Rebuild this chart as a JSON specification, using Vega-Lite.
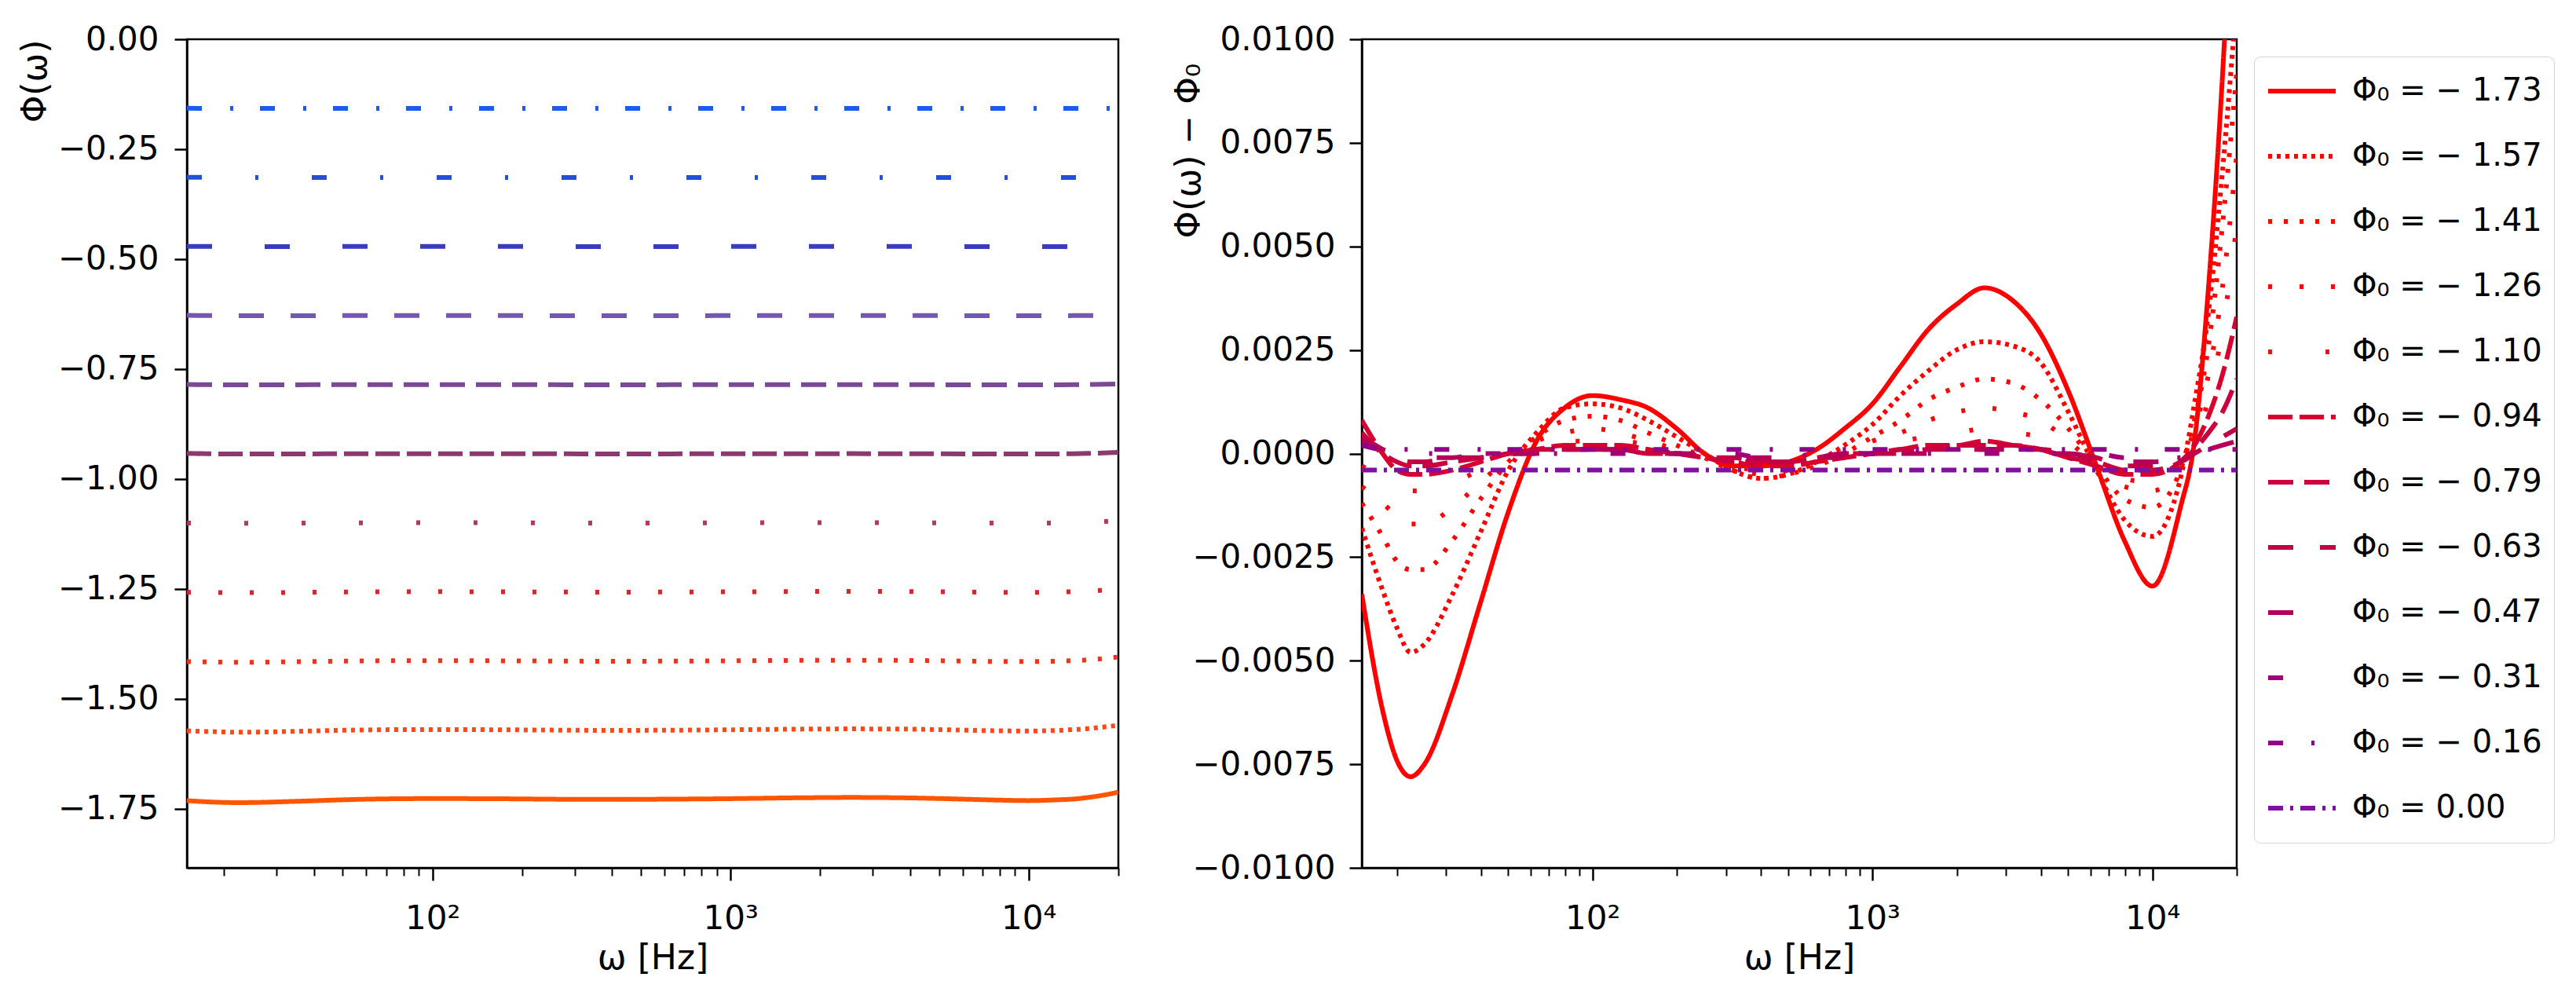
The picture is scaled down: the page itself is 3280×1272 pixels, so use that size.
{
  "$schema": "https://vega.github.io/schema/vega-lite/v6.json",
  "padding": {"left": 22, "top": 27, "right": 0, "bottom": 0},
  "background": "white",
  "config": {
    "font": "DejaVu Sans",
    "view": {"stroke": "black", "strokeWidth": 2.5},
    "axis": {
      "grid": false,
      "domainColor": "black", "domainWidth": 2.5,
      "tickColor": "black", "tickWidth": 2.5,
      "labelColor": "black", "titleColor": "black",
      "labelFont": "DejaVu Sans", "titleFont": "DejaVu Sans", "labelLimit": 400,
      "labelFontSize": 42, "titleFontSize": 44, "titleFontWeight": "normal"
    },
    "legend": {
      "labelFont": "DejaVu Sans", "labelFontSize": 40, "labelColor": "black", "labelLimit": 500,
      "symbolType": "stroke", "symbolSize": 7396, "symbolStrokeWidth": 6,
      "labelOffset": 18, "clipHeight": 58, "rowPadding": 25, "padding": 15,
      "strokeColor": "#d4d4d4", "cornerRadius": 8, "fillColor": "white"
    }
  },
  "data": {"values": [
    {"f":15,"s":"-1.73","d":-0.0034,"p":-1.7313},{"f":17.8,"s":"-1.73","d":-0.0062,"p":-1.7341},{"f":20,"s":"-1.73","d":-0.0074,"p":-1.7353},{"f":22.4,"s":"-1.73","d":-0.0078,"p":-1.7357},{"f":25.1,"s":"-1.73","d":-0.0075,"p":-1.7354},{"f":31.6,"s":"-1.73","d":-0.0058,"p":-1.7337},{"f":39.8,"s":"-1.73","d":-0.0036,"p":-1.7315},{"f":50.1,"s":"-1.73","d":-0.0014,"p":-1.7293},{"f":63.1,"s":"-1.73","d":0.0003,"p":-1.7276},{"f":79.4,"s":"-1.73","d":0.0011,"p":-1.7268},{"f":100,"s":"-1.73","d":0.0014,"p":-1.7265},{"f":126,"s":"-1.73","d":0.0013,"p":-1.7266},{"f":158,"s":"-1.73","d":0.0011,"p":-1.7268},{"f":200,"s":"-1.73","d":0.0006,"p":-1.7273},{"f":251,"s":"-1.73","d":0,"p":-1.7279},{"f":316,"s":"-1.73","d":-0.0003,"p":-1.7282},{"f":398,"s":"-1.73","d":-0.0003,"p":-1.7282},{"f":501,"s":"-1.73","d":-0.0002,"p":-1.7281},{"f":631,"s":"-1.73","d":0.0001,"p":-1.7278},{"f":794,"s":"-1.73","d":0.0006,"p":-1.7273},{"f":1000,"s":"-1.73","d":0.0012,"p":-1.7267},{"f":1259,"s":"-1.73","d":0.0021,"p":-1.7258},{"f":1585,"s":"-1.73","d":0.0030,"p":-1.7249},{"f":1995,"s":"-1.73","d":0.0036,"p":-1.7243},{"f":2512,"s":"-1.73","d":0.0040,"p":-1.7239},{"f":3162,"s":"-1.73","d":0.0037,"p":-1.7242},{"f":3981,"s":"-1.73","d":0.0029,"p":-1.7250},{"f":5012,"s":"-1.73","d":0.0015,"p":-1.7264},{"f":6310,"s":"-1.73","d":-0.0003,"p":-1.7282},{"f":7943,"s":"-1.73","d":-0.0021,"p":-1.7300},{"f":10000,"s":"-1.73","d":-0.0032,"p":-1.7311},{"f":12589,"s":"-1.73","d":-0.0013,"p":-1.7292},{"f":14125,"s":"-1.73","d":0.0003,"p":-1.7276},{"f":15849,"s":"-1.73","d":0.0040,"p":-1.7239},{"f":17783,"s":"-1.73","d":0.0091,"p":-1.7188},{"f":20000,"s":"-1.73","d":0.0160,"p":-1.7119},
    {"f":15,"s":"-1.57","d":-0.0018,"p":-1.5726},{"f":17.8,"s":"-1.57","d":-0.0033,"p":-1.5741},{"f":20,"s":"-1.57","d":-0.0042,"p":-1.5750},{"f":22.4,"s":"-1.57","d":-0.0048,"p":-1.5756},{"f":25.1,"s":"-1.57","d":-0.0046,"p":-1.5754},{"f":31.6,"s":"-1.57","d":-0.0034,"p":-1.5742},{"f":39.8,"s":"-1.57","d":-0.0019,"p":-1.5727},{"f":50.1,"s":"-1.57","d":-0.0004,"p":-1.5712},{"f":63.1,"s":"-1.57","d":0.0005,"p":-1.5703},{"f":79.4,"s":"-1.57","d":0.0011,"p":-1.5697},{"f":100,"s":"-1.57","d":0.0012,"p":-1.5696},{"f":126,"s":"-1.57","d":0.0011,"p":-1.5697},{"f":158,"s":"-1.57","d":0.0008,"p":-1.5700},{"f":200,"s":"-1.57","d":0.0004,"p":-1.5704},{"f":251,"s":"-1.57","d":0,"p":-1.5708},{"f":316,"s":"-1.57","d":-0.0004,"p":-1.5712},{"f":398,"s":"-1.57","d":-0.0006,"p":-1.5714},{"f":501,"s":"-1.57","d":-0.0005,"p":-1.5713},{"f":631,"s":"-1.57","d":-0.0002,"p":-1.5710},{"f":794,"s":"-1.57","d":0.0002,"p":-1.5706},{"f":1000,"s":"-1.57","d":0.0007,"p":-1.5701},{"f":1259,"s":"-1.57","d":0.0014,"p":-1.5694},{"f":1585,"s":"-1.57","d":0.0020,"p":-1.5688},{"f":1995,"s":"-1.57","d":0.0025,"p":-1.5683},{"f":2512,"s":"-1.57","d":0.0027,"p":-1.5681},{"f":3162,"s":"-1.57","d":0.0026,"p":-1.5682},{"f":3981,"s":"-1.57","d":0.0022,"p":-1.5686},{"f":5012,"s":"-1.57","d":0.0010,"p":-1.5698},{"f":6310,"s":"-1.57","d":-0.0004,"p":-1.5712},{"f":7943,"s":"-1.57","d":-0.0016,"p":-1.5724},{"f":10000,"s":"-1.57","d":-0.0020,"p":-1.5728},{"f":12589,"s":"-1.57","d":-0.0006,"p":-1.5714},{"f":14125,"s":"-1.57","d":0.0012,"p":-1.5696},{"f":15849,"s":"-1.57","d":0.0034,"p":-1.5674},{"f":17783,"s":"-1.57","d":0.0068,"p":-1.5640},{"f":20000,"s":"-1.57","d":0.0110,"p":-1.5598},
    {"f":15,"s":"-1.41","d":-0.0012,"p":-1.4149},{"f":17.8,"s":"-1.41","d":-0.0020,"p":-1.4157},{"f":20,"s":"-1.41","d":-0.0026,"p":-1.4163},{"f":22.4,"s":"-1.41","d":-0.0028,"p":-1.4165},{"f":25.1,"s":"-1.41","d":-0.0028,"p":-1.4165},{"f":31.6,"s":"-1.41","d":-0.0021,"p":-1.4158},{"f":39.8,"s":"-1.41","d":-0.0011,"p":-1.4148},{"f":50.1,"s":"-1.41","d":-0.0002,"p":-1.4139},{"f":63.1,"s":"-1.41","d":0.0004,"p":-1.4133},{"f":79.4,"s":"-1.41","d":0.0008,"p":-1.4129},{"f":100,"s":"-1.41","d":0.0009,"p":-1.4128},{"f":126,"s":"-1.41","d":0.0008,"p":-1.4129},{"f":158,"s":"-1.41","d":0.0005,"p":-1.4132},{"f":200,"s":"-1.41","d":0.0002,"p":-1.4135},{"f":251,"s":"-1.41","d":-0.0001,"p":-1.4138},{"f":316,"s":"-1.41","d":-0.0004,"p":-1.4141},{"f":398,"s":"-1.41","d":-0.0006,"p":-1.4143},{"f":501,"s":"-1.41","d":-0.0005,"p":-1.4142},{"f":631,"s":"-1.41","d":-0.0003,"p":-1.4140},{"f":794,"s":"-1.41","d":0,"p":-1.4137},{"f":1000,"s":"-1.41","d":0.0004,"p":-1.4133},{"f":1259,"s":"-1.41","d":0.0008,"p":-1.4129},{"f":1585,"s":"-1.41","d":0.0013,"p":-1.4124},{"f":1995,"s":"-1.41","d":0.0016,"p":-1.4121},{"f":2512,"s":"-1.41","d":0.0018,"p":-1.4119},{"f":3162,"s":"-1.41","d":0.0017,"p":-1.4120},{"f":3981,"s":"-1.41","d":0.0013,"p":-1.4124},{"f":5012,"s":"-1.41","d":0.0006,"p":-1.4131},{"f":6310,"s":"-1.41","d":-0.0003,"p":-1.4140},{"f":7943,"s":"-1.41","d":-0.0011,"p":-1.4148},{"f":10000,"s":"-1.41","d":-0.0013,"p":-1.4150},{"f":12589,"s":"-1.41","d":-0.0004,"p":-1.4141},{"f":14125,"s":"-1.41","d":0.0008,"p":-1.4129},{"f":15849,"s":"-1.41","d":0.0026,"p":-1.4111},{"f":17783,"s":"-1.41","d":0.0055,"p":-1.4082},{"f":20000,"s":"-1.41","d":0.0092,"p":-1.4045},
    {"f":15,"s":"-1.26","d":-0.0008,"p":-1.2574},{"f":17.8,"s":"-1.26","d":-0.0012,"p":-1.2578},{"f":20,"s":"-1.26","d":-0.0015,"p":-1.2581},{"f":22.4,"s":"-1.26","d":-0.0017,"p":-1.2583},{"f":25.1,"s":"-1.26","d":-0.0017,"p":-1.2583},{"f":31.6,"s":"-1.26","d":-0.0013,"p":-1.2579},{"f":39.8,"s":"-1.26","d":-0.0007,"p":-1.2573},{"f":50.1,"s":"-1.26","d":-0.0001,"p":-1.2567},{"f":63.1,"s":"-1.26","d":0.0003,"p":-1.2563},{"f":79.4,"s":"-1.26","d":0.0005,"p":-1.2561},{"f":100,"s":"-1.26","d":0.0006,"p":-1.2560},{"f":126,"s":"-1.26","d":0.0005,"p":-1.2561},{"f":158,"s":"-1.26","d":0.0003,"p":-1.2563},{"f":200,"s":"-1.26","d":0.0001,"p":-1.2565},{"f":251,"s":"-1.26","d":-0.0001,"p":-1.2567},{"f":316,"s":"-1.26","d":-0.0003,"p":-1.2569},{"f":398,"s":"-1.26","d":-0.0005,"p":-1.2571},{"f":501,"s":"-1.26","d":-0.0004,"p":-1.2570},{"f":631,"s":"-1.26","d":-0.0002,"p":-1.2568},{"f":794,"s":"-1.26","d":0,"p":-1.2566},{"f":1000,"s":"-1.26","d":0.0003,"p":-1.2563},{"f":1259,"s":"-1.26","d":0.0005,"p":-1.2561},{"f":1585,"s":"-1.26","d":0.0008,"p":-1.2558},{"f":1995,"s":"-1.26","d":0.0010,"p":-1.2556},{"f":2512,"s":"-1.26","d":0.0011,"p":-1.2555},{"f":3162,"s":"-1.26","d":0.0010,"p":-1.2556},{"f":3981,"s":"-1.26","d":0.0008,"p":-1.2558},{"f":5012,"s":"-1.26","d":0.0003,"p":-1.2563},{"f":6310,"s":"-1.26","d":-0.0003,"p":-1.2569},{"f":7943,"s":"-1.26","d":-0.0008,"p":-1.2574},{"f":10000,"s":"-1.26","d":-0.0009,"p":-1.2575},{"f":12589,"s":"-1.26","d":-0.0003,"p":-1.2569},{"f":14125,"s":"-1.26","d":0.0006,"p":-1.2560},{"f":15849,"s":"-1.26","d":0.0019,"p":-1.2547},{"f":17783,"s":"-1.26","d":0.0040,"p":-1.2526},{"f":20000,"s":"-1.26","d":0.0072,"p":-1.2494},
    {"f":15,"s":"-1.10","d":-0.0003,"p":-1.0999},{"f":17.8,"s":"-1.10","d":-0.0006,"p":-1.1002},{"f":20,"s":"-1.10","d":-0.0008,"p":-1.1004},{"f":22.4,"s":"-1.10","d":-0.0009,"p":-1.1005},{"f":25.1,"s":"-1.10","d":-0.0009,"p":-1.1005},{"f":31.6,"s":"-1.10","d":-0.0007,"p":-1.1003},{"f":39.8,"s":"-1.10","d":-0.0004,"p":-1.1000},{"f":50.1,"s":"-1.10","d":-0.0001,"p":-1.0997},{"f":63.1,"s":"-1.10","d":0.0001,"p":-1.0995},{"f":79.4,"s":"-1.10","d":0.0003,"p":-1.0993},{"f":100,"s":"-1.10","d":0.0003,"p":-1.0993},{"f":126,"s":"-1.10","d":0.0003,"p":-1.0993},{"f":158,"s":"-1.10","d":0.0002,"p":-1.0994},{"f":200,"s":"-1.10","d":0,"p":-1.0996},{"f":251,"s":"-1.10","d":-0.0001,"p":-1.0997},{"f":316,"s":"-1.10","d":-0.0003,"p":-1.0999},{"f":398,"s":"-1.10","d":-0.0004,"p":-1.1000},{"f":501,"s":"-1.10","d":-0.0003,"p":-1.0999},{"f":631,"s":"-1.10","d":-0.0002,"p":-1.0998},{"f":794,"s":"-1.10","d":-0.0001,"p":-1.0997},{"f":1000,"s":"-1.10","d":0.0001,"p":-1.0995},{"f":1259,"s":"-1.10","d":0.0003,"p":-1.0993},{"f":1585,"s":"-1.10","d":0.0004,"p":-1.0992},{"f":1995,"s":"-1.10","d":0.0005,"p":-1.0991},{"f":2512,"s":"-1.10","d":0.0006,"p":-1.0990},{"f":3162,"s":"-1.10","d":0.0005,"p":-1.0991},{"f":3981,"s":"-1.10","d":0.0004,"p":-1.0992},{"f":5012,"s":"-1.10","d":0.0001,"p":-1.0995},{"f":6310,"s":"-1.10","d":-0.0003,"p":-1.0999},{"f":7943,"s":"-1.10","d":-0.0006,"p":-1.1002},{"f":10000,"s":"-1.10","d":-0.0007,"p":-1.1003},{"f":12589,"s":"-1.10","d":-0.0002,"p":-1.0998},{"f":14125,"s":"-1.10","d":0.0004,"p":-1.0992},{"f":15849,"s":"-1.10","d":0.0013,"p":-1.0983},{"f":17783,"s":"-1.10","d":0.0030,"p":-1.0966},{"f":20000,"s":"-1.10","d":0.0055,"p":-1.0941},
    {"f":15,"s":"-0.94","d":0.0008,"p":-0.9417},{"f":17.8,"s":"-0.94","d":0,"p":-0.9425},{"f":20,"s":"-0.94","d":-0.0004,"p":-0.9429},{"f":22.4,"s":"-0.94","d":-0.0005,"p":-0.9430},{"f":25.1,"s":"-0.94","d":-0.0005,"p":-0.9430},{"f":31.6,"s":"-0.94","d":-0.0004,"p":-0.9429},{"f":39.8,"s":"-0.94","d":-0.0002,"p":-0.9427},{"f":50.1,"s":"-0.94","d":0,"p":-0.9425},{"f":63.1,"s":"-0.94","d":0.0001,"p":-0.9424},{"f":79.4,"s":"-0.94","d":0.0002,"p":-0.9423},{"f":100,"s":"-0.94","d":0.0002,"p":-0.9423},{"f":126,"s":"-0.94","d":0.0002,"p":-0.9423},{"f":158,"s":"-0.94","d":0.0001,"p":-0.9424},{"f":200,"s":"-0.94","d":0,"p":-0.9425},{"f":251,"s":"-0.94","d":-0.0001,"p":-0.9426},{"f":316,"s":"-0.94","d":-0.0002,"p":-0.9427},{"f":398,"s":"-0.94","d":-0.0003,"p":-0.9428},{"f":501,"s":"-0.94","d":-0.0003,"p":-0.9428},{"f":631,"s":"-0.94","d":-0.0002,"p":-0.9427},{"f":794,"s":"-0.94","d":-0.0001,"p":-0.9426},{"f":1000,"s":"-0.94","d":0,"p":-0.9425},{"f":1259,"s":"-0.94","d":0.0001,"p":-0.9424},{"f":1585,"s":"-0.94","d":0.0002,"p":-0.9423},{"f":1995,"s":"-0.94","d":0.0002,"p":-0.9423},{"f":2512,"s":"-0.94","d":0.0003,"p":-0.9422},{"f":3162,"s":"-0.94","d":0.0002,"p":-0.9423},{"f":3981,"s":"-0.94","d":0.0001,"p":-0.9424},{"f":5012,"s":"-0.94","d":-0.0001,"p":-0.9426},{"f":6310,"s":"-0.94","d":-0.0003,"p":-0.9428},{"f":7943,"s":"-0.94","d":-0.0005,"p":-0.9430},{"f":10000,"s":"-0.94","d":-0.0005,"p":-0.9430},{"f":12589,"s":"-0.94","d":-0.0002,"p":-0.9427},{"f":14125,"s":"-0.94","d":0.0002,"p":-0.9423},{"f":15849,"s":"-0.94","d":0.0009,"p":-0.9416},{"f":17783,"s":"-0.94","d":0.0019,"p":-0.9406},{"f":20000,"s":"-0.94","d":0.0033,"p":-0.9392},
    {"f":15,"s":"-0.79","d":0.0005,"p":-0.7849},{"f":17.8,"s":"-0.79","d":0,"p":-0.7854},{"f":20,"s":"-0.79","d":-0.0002,"p":-0.7856},{"f":22.4,"s":"-0.79","d":-0.0003,"p":-0.7857},{"f":25.1,"s":"-0.79","d":-0.0003,"p":-0.7857},{"f":31.6,"s":"-0.79","d":-0.0002,"p":-0.7856},{"f":39.8,"s":"-0.79","d":-0.0001,"p":-0.7855},{"f":50.1,"s":"-0.79","d":0,"p":-0.7854},{"f":63.1,"s":"-0.79","d":0.0001,"p":-0.7853},{"f":79.4,"s":"-0.79","d":0.0001,"p":-0.7853},{"f":100,"s":"-0.79","d":0.0001,"p":-0.7853},{"f":126,"s":"-0.79","d":0.0001,"p":-0.7853},{"f":158,"s":"-0.79","d":0,"p":-0.7854},{"f":200,"s":"-0.79","d":0,"p":-0.7854},{"f":251,"s":"-0.79","d":-0.0001,"p":-0.7855},{"f":316,"s":"-0.79","d":-0.0002,"p":-0.7856},{"f":398,"s":"-0.79","d":-0.0002,"p":-0.7856},{"f":501,"s":"-0.79","d":-0.0002,"p":-0.7856},{"f":631,"s":"-0.79","d":-0.0001,"p":-0.7855},{"f":794,"s":"-0.79","d":0,"p":-0.7854},{"f":1000,"s":"-0.79","d":0,"p":-0.7854},{"f":1259,"s":"-0.79","d":0.0001,"p":-0.7853},{"f":1585,"s":"-0.79","d":0.0001,"p":-0.7853},{"f":1995,"s":"-0.79","d":0.0002,"p":-0.7852},{"f":2512,"s":"-0.79","d":0.0002,"p":-0.7852},{"f":3162,"s":"-0.79","d":0.0002,"p":-0.7852},{"f":3981,"s":"-0.79","d":0.0001,"p":-0.7853},{"f":5012,"s":"-0.79","d":-0.0001,"p":-0.7855},{"f":6310,"s":"-0.79","d":-0.0002,"p":-0.7856},{"f":7943,"s":"-0.79","d":-0.0004,"p":-0.7858},{"f":10000,"s":"-0.79","d":-0.0004,"p":-0.7858},{"f":12589,"s":"-0.79","d":-0.0002,"p":-0.7856},{"f":14125,"s":"-0.79","d":0.0001,"p":-0.7853},{"f":15849,"s":"-0.79","d":0.0005,"p":-0.7849},{"f":17783,"s":"-0.79","d":0.0010,"p":-0.7844},{"f":20000,"s":"-0.79","d":0.0018,"p":-0.7836},
    {"f":15,"s":"-0.63","d":0.0004,"p":-0.6279},{"f":17.8,"s":"-0.63","d":0.0001,"p":-0.6282},{"f":20,"s":"-0.63","d":-0.0001,"p":-0.6284},{"f":22.4,"s":"-0.63","d":-0.0002,"p":-0.6285},{"f":25.1,"s":"-0.63","d":-0.0002,"p":-0.6285},{"f":31.6,"s":"-0.63","d":-0.0001,"p":-0.6284},{"f":39.8,"s":"-0.63","d":-0.0001,"p":-0.6284},{"f":50.1,"s":"-0.63","d":0,"p":-0.6283},{"f":63.1,"s":"-0.63","d":0,"p":-0.6283},{"f":79.4,"s":"-0.63","d":0.0001,"p":-0.6282},{"f":100,"s":"-0.63","d":0.0001,"p":-0.6282},{"f":126,"s":"-0.63","d":0.0001,"p":-0.6282},{"f":158,"s":"-0.63","d":0,"p":-0.6283},{"f":200,"s":"-0.63","d":0,"p":-0.6283},{"f":251,"s":"-0.63","d":-0.0001,"p":-0.6284},{"f":316,"s":"-0.63","d":-0.0001,"p":-0.6284},{"f":398,"s":"-0.63","d":-0.0002,"p":-0.6285},{"f":501,"s":"-0.63","d":-0.0002,"p":-0.6285},{"f":631,"s":"-0.63","d":-0.0001,"p":-0.6284},{"f":794,"s":"-0.63","d":-0.0001,"p":-0.6284},{"f":1000,"s":"-0.63","d":0,"p":-0.6283},{"f":1259,"s":"-0.63","d":0,"p":-0.6283},{"f":1585,"s":"-0.63","d":0.0001,"p":-0.6282},{"f":1995,"s":"-0.63","d":0.0001,"p":-0.6282},{"f":2512,"s":"-0.63","d":0.0001,"p":-0.6282},{"f":3162,"s":"-0.63","d":0.0001,"p":-0.6282},{"f":3981,"s":"-0.63","d":0.0001,"p":-0.6282},{"f":5012,"s":"-0.63","d":0,"p":-0.6283},{"f":6310,"s":"-0.63","d":-0.0001,"p":-0.6284},{"f":7943,"s":"-0.63","d":-0.0003,"p":-0.6286},{"f":10000,"s":"-0.63","d":-0.0003,"p":-0.6286},{"f":12589,"s":"-0.63","d":-0.0002,"p":-0.6285},{"f":14125,"s":"-0.63","d":0,"p":-0.6283},{"f":15849,"s":"-0.63","d":0.0002,"p":-0.6281},{"f":17783,"s":"-0.63","d":0.0004,"p":-0.6279},{"f":20000,"s":"-0.63","d":0.0006,"p":-0.6277},
    {"f":15,"s":"-0.47","d":0.0003,"p":-0.4709},{"f":17.8,"s":"-0.47","d":0.0001,"p":-0.4711},{"f":20,"s":"-0.47","d":0,"p":-0.4712},{"f":22.4,"s":"-0.47","d":-0.0001,"p":-0.4713},{"f":25.1,"s":"-0.47","d":-0.0001,"p":-0.4713},{"f":31.6,"s":"-0.47","d":-0.0001,"p":-0.4713},{"f":39.8,"s":"-0.47","d":0,"p":-0.4712},{"f":50.1,"s":"-0.47","d":0,"p":-0.4712},{"f":63.1,"s":"-0.47","d":0,"p":-0.4712},{"f":79.4,"s":"-0.47","d":0.0001,"p":-0.4711},{"f":100,"s":"-0.47","d":0.0001,"p":-0.4711},{"f":126,"s":"-0.47","d":0.0001,"p":-0.4711},{"f":158,"s":"-0.47","d":0,"p":-0.4712},{"f":200,"s":"-0.47","d":0,"p":-0.4712},{"f":251,"s":"-0.47","d":0,"p":-0.4712},{"f":316,"s":"-0.47","d":-0.0001,"p":-0.4713},{"f":398,"s":"-0.47","d":-0.0001,"p":-0.4713},{"f":501,"s":"-0.47","d":-0.0001,"p":-0.4713},{"f":631,"s":"-0.47","d":-0.0001,"p":-0.4713},{"f":794,"s":"-0.47","d":0,"p":-0.4712},{"f":1000,"s":"-0.47","d":0,"p":-0.4712},{"f":1259,"s":"-0.47","d":0,"p":-0.4712},{"f":1585,"s":"-0.47","d":0,"p":-0.4712},{"f":1995,"s":"-0.47","d":0.0001,"p":-0.4711},{"f":2512,"s":"-0.47","d":0.0001,"p":-0.4711},{"f":3162,"s":"-0.47","d":0.0001,"p":-0.4711},{"f":3981,"s":"-0.47","d":0,"p":-0.4712},{"f":5012,"s":"-0.47","d":0,"p":-0.4712},{"f":6310,"s":"-0.47","d":-0.0001,"p":-0.4713},{"f":7943,"s":"-0.47","d":-0.0002,"p":-0.4714},{"f":10000,"s":"-0.47","d":-0.0002,"p":-0.4714},{"f":12589,"s":"-0.47","d":-0.0001,"p":-0.4713},{"f":14125,"s":"-0.47","d":0,"p":-0.4712},{"f":15849,"s":"-0.47","d":0.0001,"p":-0.4711},{"f":17783,"s":"-0.47","d":0.0002,"p":-0.4710},{"f":20000,"s":"-0.47","d":0.0003,"p":-0.4709},
    {"f":15,"s":"-0.31","d":0.0002,"p":-0.3140},{"f":17.8,"s":"-0.31","d":0.0001,"p":-0.3141},{"f":20,"s":"-0.31","d":0,"p":-0.3142},{"f":22.4,"s":"-0.31","d":0,"p":-0.3142},{"f":25.1,"s":"-0.31","d":0,"p":-0.3142},{"f":31.6,"s":"-0.31","d":0,"p":-0.3142},{"f":39.8,"s":"-0.31","d":0,"p":-0.3142},{"f":50.1,"s":"-0.31","d":0,"p":-0.3142},{"f":63.1,"s":"-0.31","d":0,"p":-0.3142},{"f":79.4,"s":"-0.31","d":0,"p":-0.3142},{"f":100,"s":"-0.31","d":0,"p":-0.3142},{"f":126,"s":"-0.31","d":0,"p":-0.3142},{"f":158,"s":"-0.31","d":0,"p":-0.3142},{"f":200,"s":"-0.31","d":0,"p":-0.3142},{"f":251,"s":"-0.31","d":0,"p":-0.3142},{"f":316,"s":"-0.31","d":0,"p":-0.3142},{"f":398,"s":"-0.31","d":-0.0001,"p":-0.3143},{"f":501,"s":"-0.31","d":-0.0001,"p":-0.3143},{"f":631,"s":"-0.31","d":0,"p":-0.3142},{"f":794,"s":"-0.31","d":0,"p":-0.3142},{"f":1000,"s":"-0.31","d":0,"p":-0.3142},{"f":1259,"s":"-0.31","d":0,"p":-0.3142},{"f":1585,"s":"-0.31","d":0,"p":-0.3142},{"f":1995,"s":"-0.31","d":0,"p":-0.3142},{"f":2512,"s":"-0.31","d":0,"p":-0.3142},{"f":3162,"s":"-0.31","d":0,"p":-0.3142},{"f":3981,"s":"-0.31","d":0,"p":-0.3142},{"f":5012,"s":"-0.31","d":0,"p":-0.3142},{"f":6310,"s":"-0.31","d":0,"p":-0.3142},{"f":7943,"s":"-0.31","d":-0.0001,"p":-0.3143},{"f":10000,"s":"-0.31","d":-0.0001,"p":-0.3143},{"f":12589,"s":"-0.31","d":-0.0001,"p":-0.3143},{"f":14125,"s":"-0.31","d":0,"p":-0.3142},{"f":15849,"s":"-0.31","d":0,"p":-0.3142},{"f":17783,"s":"-0.31","d":0.0001,"p":-0.3141},{"f":20000,"s":"-0.31","d":0.0001,"p":-0.3141},
    {"f":15,"s":"-0.16","d":0.0002,"p":-0.1569},{"f":17.8,"s":"-0.16","d":0.0001,"p":-0.1570},{"f":20,"s":"-0.16","d":0.0001,"p":-0.1570},{"f":22.4,"s":"-0.16","d":0.0001,"p":-0.1570},{"f":25.1,"s":"-0.16","d":0.0001,"p":-0.1570},{"f":31.6,"s":"-0.16","d":0.0001,"p":-0.1570},{"f":39.8,"s":"-0.16","d":0.0001,"p":-0.1570},{"f":50.1,"s":"-0.16","d":0.0001,"p":-0.1570},{"f":63.1,"s":"-0.16","d":0.0001,"p":-0.1570},{"f":79.4,"s":"-0.16","d":0.0001,"p":-0.1570},{"f":100,"s":"-0.16","d":0.0001,"p":-0.1570},{"f":126,"s":"-0.16","d":0.0001,"p":-0.1570},{"f":158,"s":"-0.16","d":0.0001,"p":-0.1570},{"f":200,"s":"-0.16","d":0.0001,"p":-0.1570},{"f":251,"s":"-0.16","d":0.0001,"p":-0.1570},{"f":316,"s":"-0.16","d":0.0001,"p":-0.1570},{"f":398,"s":"-0.16","d":0.0001,"p":-0.1570},{"f":501,"s":"-0.16","d":0.0001,"p":-0.1570},{"f":631,"s":"-0.16","d":0.0001,"p":-0.1570},{"f":794,"s":"-0.16","d":0.0001,"p":-0.1570},{"f":1000,"s":"-0.16","d":0.0001,"p":-0.1570},{"f":1259,"s":"-0.16","d":0.0001,"p":-0.1570},{"f":1585,"s":"-0.16","d":0.0001,"p":-0.1570},{"f":1995,"s":"-0.16","d":0.0001,"p":-0.1570},{"f":2512,"s":"-0.16","d":0.0001,"p":-0.1570},{"f":3162,"s":"-0.16","d":0.0001,"p":-0.1570},{"f":3981,"s":"-0.16","d":0.0001,"p":-0.1570},{"f":5012,"s":"-0.16","d":0.0001,"p":-0.1570},{"f":6310,"s":"-0.16","d":0.0001,"p":-0.1570},{"f":7943,"s":"-0.16","d":0.0001,"p":-0.1570},{"f":10000,"s":"-0.16","d":0.0001,"p":-0.1570},{"f":12589,"s":"-0.16","d":0.0001,"p":-0.1570},{"f":14125,"s":"-0.16","d":0.0001,"p":-0.1570},{"f":15849,"s":"-0.16","d":0.0001,"p":-0.1570},{"f":17783,"s":"-0.16","d":0.0001,"p":-0.1570},{"f":20000,"s":"-0.16","d":0.0001,"p":-0.1570},
    {"f":15,"s":"0.00","d":-0.0004,"p":-0.0004},{"f":100,"s":"0.00","d":-0.0004,"p":-0.0004},{"f":1000,"s":"0.00","d":-0.0004,"p":-0.0004},{"f":10000,"s":"0.00","d":-0.0004,"p":-0.0004},{"f":20000,"s":"0.00","d":-0.0004,"p":-0.0004}
  ]},
  "spacing": 62,
  "resolve": {
    "scale": {"color": "independent", "strokeDash": "independent"},
    "legend": {"color": "independent", "strokeDash": "independent"}
  },
  "hconcat": [
    {
      "width": 1186,
      "height": 1055,
      "transform": [{"filter": "datum.s != '0.00'"}],
      "layer": [
        {
          "mark": {"type": "line", "strokeWidth": 6, "clip": true, "interpolate": "monotone"},
          "encoding": {
            "x": {
              "field": "f", "type": "quantitative",
              "scale": {"type": "log", "domain": [15, 20000], "nice": false},
              "axis": {
                "orient": "bottom", "values": [100, 1000, 10000],
                "labelExpr": "datum.value == 100 ? '10²' : datum.value == 1000 ? '10³' : '10⁴'",
                "tickSize": 16, "labelPadding": 28, "title": "ω [Hz]", "titlePadding": 8
              }
            },
            "y": {
              "field": "p", "type": "quantitative",
              "scale": {"domain": [-1.884, 0], "nice": false, "zero": false},
              "axis": {
                "values": [0, -0.25, -0.5, -0.75, -1, -1.25, -1.5, -1.75],
                "format": ".2f", "tickSize": 16, "labelPadding": 20,
                "title": "Φ(ω)", "titleAnchor": "end", "titlePadding": 6
              }
            },
            "color": {
              "field": "s", "type": "nominal", "legend": null,
              "scale": {
                "domain": ["-1.73", "-1.57", "-1.41", "-1.26", "-1.10", "-0.94", "-0.79", "-0.63", "-0.47", "-0.31", "-0.16", "0.00"],
                "range": ["#ff5500", "#ff4818", "#e83420", "#d02a30", "#b43a5c", "#8a3a6e", "#7a4a96", "#7458b0", "#3a3cc0", "#2450d8", "#1a5cf0", "#0a66ff"]
              }
            },
            "strokeDash": {
              "field": "s", "type": "nominal", "legend": null,
              "scale": {
                "domain": ["-1.73", "-1.57", "-1.41", "-1.26", "-1.10", "-0.94", "-0.79", "-0.63", "-0.47", "-0.31", "-0.16", "0.00"],
                "range": [[1, 0], [5, 6], [5, 15], [5, 35], [5, 68], [31, 9], [32, 14], [32, 34], [32, 67], [19, 68, 4, 68], [19, 36, 4, 34], [19, 9, 4, 9]]
              }
            }
          }
        },
        {
          "mark": {"type": "point", "opacity": 0},
          "encoding": {
            "x": {
              "field": "f", "type": "quantitative",
              "scale": {"type": "log", "domain": [15, 20000], "nice": false},
              "axis": {
                "orient": "bottom",
                "values": [20, 30, 40, 50, 60, 70, 80, 90, 200, 300, 400, 500, 600, 700, 800, 900, 2000, 3000, 4000, 5000, 6000, 7000, 8000, 9000, 20000],
                "labels": false, "domain": false, "tickSize": 10, "tickWidth": 2, "title": null
              }
            }
          }
        }
      ],
      "resolve": {"axis": {"x": "independent"}}
    },
    {
      "width": 1114,
      "height": 1055,
      "layer": [
        {
          "mark": {"type": "line", "strokeWidth": 6, "clip": true, "interpolate": "monotone"},
          "encoding": {
            "x": {
              "field": "f", "type": "quantitative",
              "scale": {"type": "log", "domain": [15, 20000], "nice": false},
              "axis": {
                "orient": "bottom", "values": [100, 1000, 10000],
                "labelExpr": "datum.value == 100 ? '10²' : datum.value == 1000 ? '10³' : '10⁴'",
                "tickSize": 16, "labelPadding": 28, "title": "ω [Hz]", "titlePadding": 8
              }
            },
            "y": {
              "field": "d", "type": "quantitative",
              "scale": {"domain": [-0.01, 0.01], "nice": false, "zero": false},
              "axis": {
                "values": [-0.01, -0.0075, -0.005, -0.0025, 0, 0.0025, 0.005, 0.0075, 0.01],
                "format": ".4f", "tickSize": 16, "labelPadding": 18,
                "title": "Φ(ω) − Φ₀", "titleAnchor": "end", "titleX": -198, "titleY": 30
              }
            },
            "color": {
              "field": "s", "type": "nominal",
              "legend": {"title": null, "orient": "none", "legendX": 1136, "legendY": 22,
                "labelExpr": "datum.label == '0.00' ? 'Φ₀ = 0.00' : 'Φ₀ = − ' + replace(datum.label, '-', '')"},
              "scale": {
                "domain": ["-1.73", "-1.57", "-1.41", "-1.26", "-1.10", "-0.94", "-0.79", "-0.63", "-0.47", "-0.31", "-0.16", "0.00"],
                "range": ["#ff0000", "#ff0000", "#ff0404", "#fa0606", "#f20a14", "#d8002e", "#cc003c", "#c20048", "#b4005a", "#a00078", "#900088", "#8010a0"]
              }
            },
            "strokeDash": {
              "field": "s", "type": "nominal",
              "legend": {"title": null, "orient": "none", "legendX": 1136, "legendY": 22,
                "labelExpr": "datum.label == '0.00' ? 'Φ₀ = 0.00' : 'Φ₀ = − ' + replace(datum.label, '-', '')"},
              "scale": {
                "domain": ["-1.73", "-1.57", "-1.41", "-1.26", "-1.10", "-0.94", "-0.79", "-0.63", "-0.47", "-0.31", "-0.16", "0.00"],
                "range": [[1, 0], [5, 6], [5, 15], [5, 35], [5, 68], [31, 9], [32, 14], [32, 34], [32, 67], [19, 68, 4, 68], [19, 36, 4, 34], [19, 9, 4, 9]]
              }
            }
          }
        },
        {
          "mark": {"type": "point", "opacity": 0},
          "encoding": {
            "x": {
              "field": "f", "type": "quantitative",
              "scale": {"type": "log", "domain": [15, 20000], "nice": false},
              "axis": {
                "orient": "bottom",
                "values": [20, 30, 40, 50, 60, 70, 80, 90, 200, 300, 400, 500, 600, 700, 800, 900, 2000, 3000, 4000, 5000, 6000, 7000, 8000, 9000, 20000],
                "labels": false, "domain": false, "tickSize": 10, "tickWidth": 2, "title": null
              }
            }
          }
        }
      ],
      "resolve": {"axis": {"x": "independent"}}
    }
  ]
}
